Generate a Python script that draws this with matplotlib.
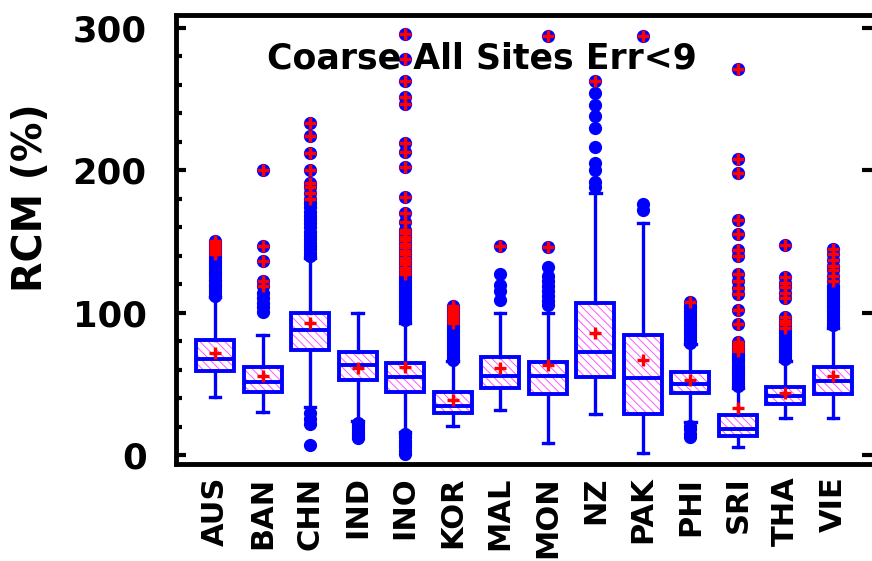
import numpy as np
import matplotlib
matplotlib.use("Agg")
import matplotlib.pyplot as plt

sites = ["AUS", "BAN", "CHN", "IND", "INO", "KOR", "MAL", "MON", "NZ", "PAK", "PHI", "SRI", "THA", "VIE"]

q1 = [59, 44, 74, 52.5, 44, 29.3, 47, 43, 55, 28.5, 43.3, 13.3, 35.8, 43]
med = [67.5, 51.5, 88, 63, 54.5, 34.7, 55.7, 55.7, 72.5, 54.3, 50, 18, 41.7, 52]
q3 = [81, 62, 100, 72.5, 64.5, 44, 68.6, 65, 106.5, 84.3, 58, 28, 48, 62]
means = [72, 55.5, 93, 61, 62, 39, 61.4, 63, 86, 66.7, 52.7, 33.3, 43.8, 55.7]
whis_lo = [40.5, 30.5, 34, 24, 16, 20.4, 31.6, 8.7, 28.5, 1.6, 23, 5.4, 25.8, 26]
whis_hi = [111, 84, 138.5, 100, 93, 66, 100, 99.5, 184, 163, 78, 47, 66, 89]

# outliers (blue dots)
outliers = [
    [112, 113.5, 115, 117, 118.5, 120, 122, 123, 125, 127, 128.5, 130, 132, 134, 135.5, 137, 139],
    [100.5, 104, 107, 110, 114],
    [7, 22, 25.5, 29.5, 140, 142, 145, 147, 149, 152, 154, 157, 160, 163, 166, 168, 171, 174, 177],
    [12, 13.5, 15, 16.5, 18, 19.5, 21, 22.5],
    [0.5, 3, 5.5, 8, 10, 12.5, 14.5, 95, 97, 99, 101, 103, 105, 107, 109, 111, 113, 115, 117, 119, 121, 123, 125],
    [67, 69, 71, 73, 75, 77, 79, 81, 83, 85, 87, 89, 91],
    [109, 115, 119.5, 127.5],
    [105.5, 108.5, 112, 115.5, 119, 122.5, 126, 132],
    [188.5, 192, 200, 205, 216.5, 230, 238, 246, 254],
    [172, 176.5],
    [13, 15, 18, 20.5, 79, 81, 83, 85, 87, 89, 91, 93, 95, 97, 99, 101, 103, 105],
    [48.5, 50, 51.5, 53, 54.5, 56, 57.5, 59, 60.5, 62, 63.5, 65, 66.5, 68, 69.5, 71],
    [67.5, 69.5, 71.5, 73.5, 75.5, 77.5, 79.5, 81.5, 83.5, 85.5, 87.5],
    [91, 93, 95, 97, 99, 101, 103, 105, 107, 109, 111, 113, 115, 117, 119],
]

# far outliers (blue dot with red plus)
far = [
    [141, 143, 145, 146.5, 148, 150],
    [119, 122, 136.5, 147, 200],
    [180, 184, 188, 191, 200, 212, 224, 233],
    [],
    [127, 129, 131.5, 134, 136, 138.5, 141, 143, 146, 148, 151, 153, 156, 158, 164, 170,
     181.5, 202, 213, 219, 246.5, 251.5, 263, 278, 296],
    [93, 95, 97, 99, 101, 103, 105],
    [147],
    [146, 294],
    [263],
    [294],
    [107.5],
    [73, 75, 77, 79.5, 92, 102, 113, 117, 122, 127, 139.5, 144, 155, 165, 198, 208, 271],
    [89.5, 92, 94.5, 97, 110, 114, 118, 121, 125, 147.5],
    [122, 126, 130, 133, 137, 141, 144.5],
]

plt.rcParams['font.family'] = ['DejaVu Sans']
plt.rcParams['font.weight'] = 'bold'
plt.rcParams['hatch.linewidth'] = 0.7

blue = '#0000ff'
pos = np.arange(1, len(sites) + 1)

fig = plt.figure(figsize=(8.72, 5.61), dpi=100)
ax = fig.add_axes([176 / 872, 1 - 464 / 561, 1 - 176 / 872, (464 - 15) / 561])

# hatched box fill
ax.bar(pos, np.array(q3) - np.array(q1), bottom=q1, width=0.8, color='white',
       edgecolor='#ff55ff', hatch='\\\\\\\\', linewidth=0, zorder=1.5)

stats = []
for i in range(len(sites)):
    stats.append(dict(label=sites[i], q1=q1[i], med=med[i], q3=q3[i], mean=means[i],
                      whislo=whis_lo[i], whishi=whis_hi[i],
                      fliers=np.array(outliers[i] + far[i], dtype=float)))

ax.bxp(stats, positions=pos, widths=0.8, capwidths=0.22, patch_artist=True, showmeans=True,
       boxprops=dict(facecolor='none', edgecolor=blue, linewidth=2.8),
       medianprops=dict(color=blue, linewidth=2.8),
       whiskerprops=dict(color=blue, linewidth=2.4),
       capprops=dict(color=blue, linewidth=2.4),
       flierprops=dict(marker='o', markerfacecolor=blue, markeredgecolor=blue, markersize=8.5),
       meanprops=dict(marker='+', markeredgecolor='red', markersize=9, markeredgewidth=2.4),
       zorder=2)

for i in range(len(sites)):
    if far[i]:
        ax.plot([pos[i]] * len(far[i]), far[i], linestyle='none', marker='+',
                markeredgecolor='red', markersize=8, markeredgewidth=2.4, zorder=3)

ax.set_xlim(0.18, 14.82)
ax.set_ylim(-6.3, 309.1)

ax.set_yticks([0, 100, 200, 300])
ax.set_yticks(np.arange(0, 301, 20), minor=True)
ax.tick_params(axis='y', which='major', direction='in', length=7, width=3, labelsize=25.5, pad=21,
               right=True)
ax.tick_params(axis='y', which='minor', direction='in', length=4, width=3, right=False)
ax.set_xticks(pos)
ax.set_xticklabels(sites, rotation=90, fontsize=22, fontweight='bold')
ax.tick_params(axis='x', length=0, pad=9)
for lab in ax.get_yticklabels():
    lab.set_fontweight('bold')

for s in ['left', 'bottom', 'top']:
    ax.spines[s].set_linewidth(3.5)
ax.spines['right'].set_visible(False)

ax.text(0.44, 0.904, "Coarse All Sites Err<9", transform=ax.transAxes, ha='center', va='center',
        fontsize=25, fontweight='bold')
fig.text(31 / 872, 1 - 198 / 561, "RCM (%)", rotation=90, ha='center', va='center',
         fontsize=28.5, fontweight='bold')

fig.savefig("out.png", dpi=100)
